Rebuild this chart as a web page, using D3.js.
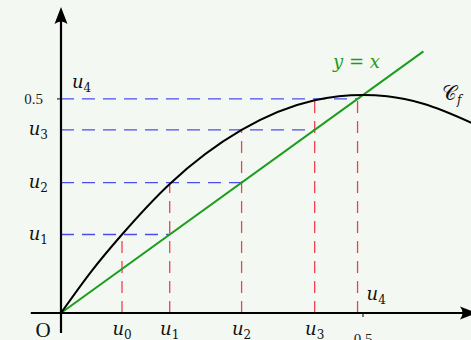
<!DOCTYPE html>
<html>
<head>
<meta charset="utf-8">
<script src="https://cdn.jsdelivr.net/npm/d3@7"></script>
<style>
  body { margin: 0; background: #f3f9f2; }
  svg { display: block; }
  text { font-family: "Liberation Serif", "DejaVu Serif", serif; }
  .math { font-family: "DejaVu Serif", serif; }
</style>
</head>
<body>
<div id="chart"></div>
<script>
// terms of the sequence
const uNames  = ['0', '1', '2', '3', '4'];
const uValues = [0.101, 0.180, 0.299, 0.420, 0.491];
// f(u_n) = u_(n+1), top of each red dashed line
const uImages = [0.180, 0.299, 0.420, 0.491, 0.497];

// points of the curve C_f
const curveX = [0, 0.05, 0.101, 0.18, 0.299, 0.42, 0.46, 0.5, 0.54, 0.6, 0.68];
const curveY = [0, 0.095, 0.180, 0.296, 0.420, 0.488, 0.497, 0.5, 0.497, 0.48, 0.436];

// the line y = x
const diagX = [0, 0.6];

// tick labels
const xTicks = [0.5],   xTickLabels = ['0.5'];
const yTicks = [0.491], yTickLabels = ['0.5'];

const W = 471, H = 340;
const svg = d3.select('#chart').append('svg')
  .attr('width', W).attr('height', H);

const x = d3.scaleLinear().domain([0, 0.5]).range([61, 363]);
const y = d3.scaleLinear().domain([0, 0.5]).range([313, 95]);

const blue = '#4c4cee', red = '#ee4050', green = '#1c9c1c';

// label with a subscript
function subLabel(px, py, base, sub, anchor, color) {
  const t = svg.append('text')
    .attr('class', 'math')
    .attr('x', px).attr('y', py)
    .attr('text-anchor', anchor)
    .attr('fill', color || '#111')
    .attr('font-size', 18);
  t.append('tspan').attr('font-style', 'italic').text(base);
  t.append('tspan').attr('font-size', 12).attr('dy', 4).text(sub);
  return t;
}

// horizontal dashed lines (u1..u4 from the y axis to y = x)
const hData = uValues.slice(1);
svg.selectAll('line.h')
  .data(hData).enter().append('line')
    .attr('class', 'h')
    .attr('x1', x(0)).attr('x2', d => x(d))
    .attr('y1', d => y(d)).attr('y2', d => y(d))
    .attr('stroke', blue).attr('stroke-width', 1.3)
    .attr('stroke-dasharray', '13,8');

// vertical dashed lines (u_n from the x axis up to the curve)
svg.selectAll('line.v')
  .data(uValues).enter().append('line')
    .attr('class', 'v')
    .attr('x1', d => x(d)).attr('x2', d => x(d))
    .attr('y1', y(0)).attr('y2', (d, i) => y(uImages[i]))
    .attr('stroke', red).attr('stroke-width', 1.3)
    .attr('stroke-dasharray', '12,8');

// y = x
svg.append('line')
  .attr('x1', x(diagX[0])).attr('y1', y(diagX[0]))
  .attr('x2', x(diagX[1])).attr('y2', y(diagX[1]))
  .attr('stroke', green).attr('stroke-width', 2);

// C_f
const pts = curveX.map((v, i) => [v, curveY[i]]);
svg.append('path')
  .datum(pts)
  .attr('d', d3.line().x(d => x(d[0])).y(d => y(d[1])).curve(d3.curveMonotoneX))
  .attr('fill', 'none').attr('stroke', '#000').attr('stroke-width', 2);

// axes
svg.append('line')
  .attr('x1', x(-0.05)).attr('x2', 470)
  .attr('y1', y(0)).attr('y2', y(0))
  .attr('stroke', '#000').attr('stroke-width', 2.2);
svg.append('line')
  .attr('x1', x(0)).attr('x2', x(0))
  .attr('y1', y(-0.046)).attr('y2', 14)
  .attr('stroke', '#000').attr('stroke-width', 2.2);

// arrow heads
function arrow(tx, ty, angle) {
  svg.append('path')
    .attr('d', 'M0,0 L-17,-6.5 Q-12,0 -17,6.5 Z')
    .attr('transform', `translate(${tx},${ty}) rotate(${angle})`)
    .attr('fill', '#000');
}
arrow(x(0), 7, -90);
arrow(477, y(0), 0);

// ticks
svg.selectAll('line.xt')
  .data(xTicks).enter().append('line')
    .attr('x1', d => x(d)).attr('x2', d => x(d))
    .attr('y1', y(0)).attr('y2', y(0) + 4)
    .attr('stroke', '#000').attr('stroke-width', 1);
svg.selectAll('text.xt')
  .data(xTicks).enter().append('text')
    .attr('x', d => x(d)).attr('y', 344)
    .attr('text-anchor', 'middle').attr('font-size', 15)
    .attr('fill', '#222')
    .text((d, i) => xTickLabels[i]);
svg.selectAll('line.yt')
  .data(yTicks).enter().append('line')
    .attr('x1', x(0) - 4).attr('x2', x(0))
    .attr('y1', d => y(d)).attr('y2', d => y(d))
    .attr('stroke', '#000').attr('stroke-width', 1);
svg.selectAll('text.yt')
  .data(yTicks).enter().append('text')
    .attr('x', 43).attr('y', d => y(d) + 5)
    .attr('text-anchor', 'end').attr('font-size', 15)
    .attr('fill', '#222')
    .text((d, i) => yTickLabels[i]);

// origin
svg.append('text')
  .attr('x', 43).attr('y', 337)
  .attr('text-anchor', 'middle').attr('font-size', 21)
  .attr('fill', '#111').text('O');

// labels on the x axis
uValues.forEach((v, i) => {
  if (i < 4) subLabel(x(v), 335, 'u', uNames[i], 'middle');
  else subLabel(x(v) + 9, 300, 'u', uNames[i], 'start');
});

// labels on the y axis
uValues.slice(1).forEach((v, i) => {
  if (i < 3) subLabel(48, y(v) + 5, 'u', uNames[i + 1], 'end');
  else subLabel(72, y(v) - 11, 'u', uNames[i + 1], 'start');
});

// curve names
const yx = svg.append('text')
  .attr('class', 'math')
  .attr('x', 333).attr('y', 68)
  .attr('font-size', 18).attr('fill', green);
yx.append('tspan').attr('font-style', 'italic').text('y');
yx.append('tspan').text(' = ');
yx.append('tspan').attr('font-style', 'italic').text('x');

const cf = svg.append('text')
  .attr('x', 442).attr('y', 100)
  .attr('font-size', 20).attr('fill', '#111');
cf.append('tspan').text('𝒞');
cf.append('tspan').attr('class', 'math').attr('font-size', 12)
  .attr('font-style', 'italic').attr('dy', 4).text('f');
</script>
</body>
</html>
